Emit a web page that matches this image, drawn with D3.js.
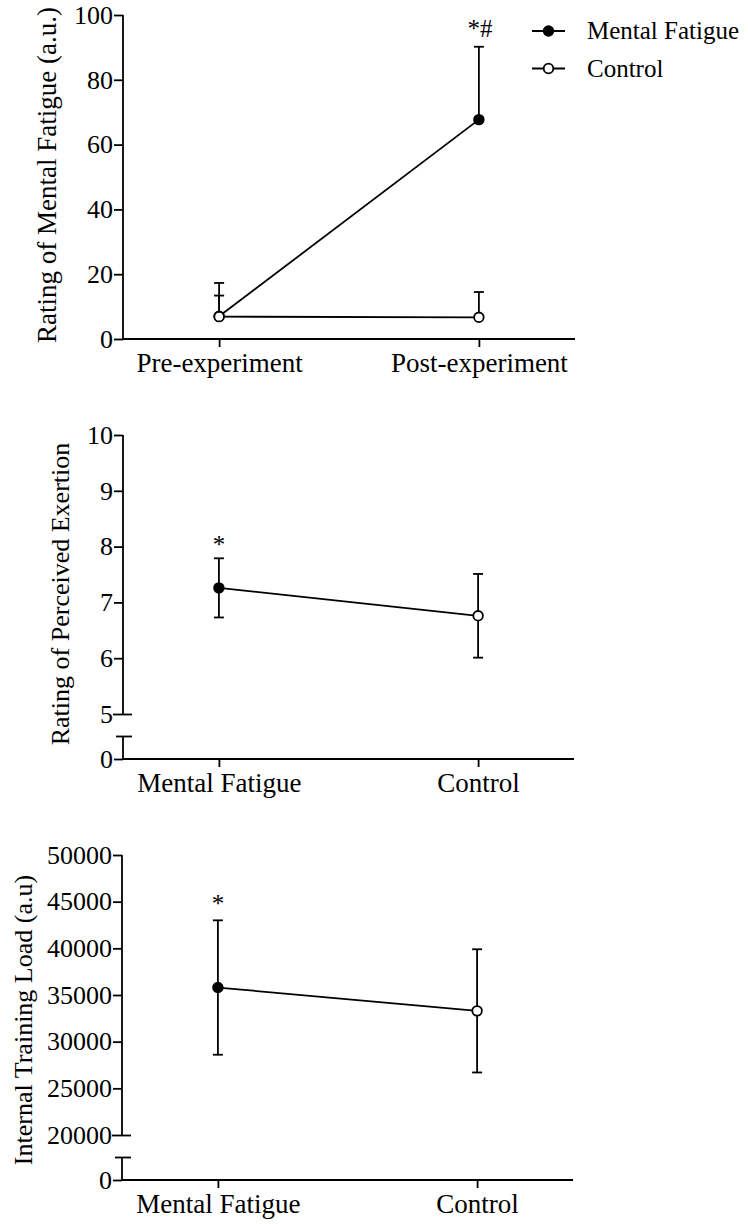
<!DOCTYPE html>
<html lang="en">
<head>
<meta charset="utf-8">
<title>Mental fatigue, RPE and training load</title>
<script src="https://d3js.org/d3.v7.min.js"></script>
<style>
  body { margin: 0; background: #fff; }
  svg { display: block; }
</style>
</head>
<body>
<script>
// ---- data ----
var fatigueTimes = ["Pre-experiment", "Post-experiment"];
var fatigueMentalMean = [7.0, 67.7];
var fatigueMentalSd = [10.3, 22.5];
var fatigueControlMean = [6.9, 6.7];
var fatigueControlSd = [6.5, 7.8];
var fatigueSig = ["", "*#"];
var fatigueTicks = [0, 20, 40, 60, 80, 100];

var groupNames = ["Mental Fatigue", "Control"];
var rpeMean = [7.26, 6.76];
var rpeSd = [0.53, 0.75];
var rpeSig = ["*", ""];
var rpeTicks = [0, 5, 6, 7, 8, 9, 10];

var loadMean = [35800, 33300];
var loadSd = [7200, 6600];
var loadSig = ["*", ""];
var loadTicks = [0, 20000, 25000, 30000, 35000, 40000, 45000, 50000];

var legendNames = ["Mental Fatigue", "Control"];

// ---- drawing ----
var W = 748, H = 1224;
var FONT = "'Liberation Serif', 'Times New Roman', serif";
var SW = 1.8;

var svg = d3.select("body").append("svg")
    .attr("width", W)
    .attr("height", H)
    .style("font-family", FONT);

svg.append("rect").attr("width", W).attr("height", H).attr("fill", "#fff");

function yAxis(g, y, ticks, brk) {
    g.call(d3.axisLeft(y).tickValues(ticks).tickSize(9).tickPadding(1).tickFormat(d3.format("d")));
    g.select(".domain").remove();
    g.attr("font-family", FONT).attr("font-size", 26);
    g.selectAll(".tick line").attr("stroke", "#000").attr("stroke-width", SW);
    g.selectAll(".tick text").attr("fill", "#000");
    if (brk == null) {
        g.append("line").attr("y1", y(0)).attr("y2", y(ticks[ticks.length - 1]))
            .attr("stroke", "#000").attr("stroke-width", SW);
        return;
    }
    // broken axis: upper segment, lower stub and the two break marks
    var mid = (y(0) + y(brk)) / 2;
    g.append("line").attr("y1", y(brk)).attr("y2", y(ticks[ticks.length - 1]))
        .attr("stroke", "#000").attr("stroke-width", SW);
    g.append("line").attr("y1", mid).attr("y2", y(0))
        .attr("stroke", "#000").attr("stroke-width", SW);
    g.selectAll(".tick").filter(function (d) { return d === brk; })
        .select("line").attr("x1", 9).attr("x2", -10);
    g.append("line").attr("x1", -7).attr("x2", 9).attr("y1", mid).attr("y2", mid)
        .attr("stroke", "#000").attr("stroke-width", SW);
}

function xAxis(g, x, y0, x0, x1) {
    g.attr("transform", "translate(0," + y0 + ")")
        .call(d3.axisBottom(x).tickSize(8).tickPadding(6));
    g.select(".domain").remove();
    g.attr("font-family", FONT).attr("font-size", 27);
    g.selectAll(".tick line").attr("stroke", "#000").attr("stroke-width", SW);
    g.selectAll(".tick text").attr("fill", "#000");
    g.append("line").attr("x1", x0).attr("x2", x1)
        .attr("stroke", "#000").attr("stroke-width", SW);
}

function yTitle(text, cx, cy, size) {
    svg.append("text")
        .attr("transform", "translate(" + cx + "," + cy + ") rotate(-90)")
        .attr("text-anchor", "middle")
        .attr("dy", "0.35em")
        .attr("font-size", size)
        .text(text);
}

function errBar(g, x, yLo, yHi, lowerCap) {
    g.append("line").attr("x1", x).attr("x2", x).attr("y1", yLo).attr("y2", yHi)
        .attr("stroke", "#000").attr("stroke-width", SW);
    g.append("line").attr("x1", x - 5).attr("x2", x + 5).attr("y1", yHi).attr("y2", yHi)
        .attr("stroke", "#000").attr("stroke-width", SW);
    if (lowerCap) {
        g.append("line").attr("x1", x - 5).attr("x2", x + 5).attr("y1", yLo).attr("y2", yLo)
            .attr("stroke", "#000").attr("stroke-width", SW);
    }
}

function dot(g, x, y, filled) {
    g.append("circle").attr("cx", x).attr("cy", y).attr("r", 4.8)
        .attr("fill", filled ? "#000" : "#fff")
        .attr("stroke", "#000").attr("stroke-width", SW);
}

// ---------- panel 1: rating of mental fatigue ----------
(function () {
    var x = d3.scalePoint().domain(fatigueTimes).range([123, 575]).padding(0.37);
    var y = d3.scaleLinear().domain([0, 100]).range([339, 15]);
    var g = svg.append("g");

    yAxis(g.append("g").attr("transform", "translate(123,0)"), y, fatigueTicks, null);
    xAxis(g.append("g"), x, y(0), 123, 575);
    yTitle("Rating of Mental Fatigue (a.u.)", 47, 175, 27);

    // one-sided error bars (upwards only)
    fatigueTimes.forEach(function (t, i) {
        errBar(g, x(t), y(fatigueMentalMean[i]), y(fatigueMentalMean[i] + fatigueMentalSd[i]), false);
        errBar(g, x(t), y(fatigueControlMean[i]), y(fatigueControlMean[i] + fatigueControlSd[i]), false);
    });

    var line = d3.line()
        .x(function (d, i) { return x(fatigueTimes[i]); })
        .y(function (d) { return y(d); });

    g.append("path").datum(fatigueMentalMean).attr("d", line)
        .attr("fill", "none").attr("stroke", "#000").attr("stroke-width", SW);
    g.append("path").datum(fatigueControlMean).attr("d", line)
        .attr("fill", "none").attr("stroke", "#000").attr("stroke-width", SW);

    fatigueTimes.forEach(function (t, i) { dot(g, x(t), y(fatigueMentalMean[i]), true); });
    fatigueTimes.forEach(function (t, i) { dot(g, x(t), y(fatigueControlMean[i]), false); });

    fatigueTimes.forEach(function (t, i) {
        g.append("text").attr("x", x(t) + 1)
            .attr("y", y(fatigueMentalMean[i] + fatigueMentalSd[i]) - 10)
            .attr("text-anchor", "middle").attr("font-size", 25)
            .text(fatigueSig[i]);
    });

    // legend
    var lg = svg.append("g");
    legendNames.forEach(function (name, i) {
        var ly = 31 + i * 37.5;
        lg.append("line").attr("x1", 532).attr("x2", 565).attr("y1", ly).attr("y2", ly)
            .attr("stroke", "#000").attr("stroke-width", SW);
        dot(lg, 548.5, ly, i === 0);
        lg.append("text").attr("x", 587).attr("y", ly).attr("dy", "0.33em")
            .attr("font-size", 25).text(name);
    });
})();

// ---------- panels 2 and 3: group means with SD ----------
function groupPanel(cfg) {
    var x = d3.scalePoint().domain(groupNames).range([cfg.left, cfg.right]).padding(0.37);
    var y = d3.scaleLinear().domain(cfg.domain).range(cfg.range);
    var g = svg.append("g");

    yAxis(g.append("g").attr("transform", "translate(" + cfg.left + ",0)"), y, cfg.ticks, cfg.domain[1]);
    xAxis(g.append("g"), x, y(0), cfg.left, cfg.right);
    yTitle(cfg.title, cfg.titleX, cfg.titleY, 26);

    groupNames.forEach(function (n, i) {
        errBar(g, x(n), y(cfg.mean[i] - cfg.sd[i]), y(cfg.mean[i] + cfg.sd[i]), true);
    });

    var line = d3.line()
        .x(function (d, i) { return x(groupNames[i]); })
        .y(function (d) { return y(d); });
    g.append("path").datum(cfg.mean).attr("d", line)
        .attr("fill", "none").attr("stroke", "#000").attr("stroke-width", SW);

    groupNames.forEach(function (n, i) { dot(g, x(n), y(cfg.mean[i]), i === 0); });

    groupNames.forEach(function (n, i) {
        g.append("text").attr("x", x(n))
            .attr("y", y(cfg.mean[i] + cfg.sd[i]) - cfg.sigGap)
            .attr("text-anchor", "middle").attr("font-size", 25)
            .text(cfg.sig[i]);
    });
}

groupPanel({
    left: 123, right: 574,
    domain: [0, 5, 10], range: [759, 714, 435],
    ticks: rpeTicks, mean: rpeMean, sd: rpeSd, sig: rpeSig, sigGap: 5,
    title: "Rating of Perceived Exertion", titleX: 60, titleY: 594
});

groupPanel({
    left: 122, right: 573,
    domain: [0, 20000, 50000], range: [1180, 1135, 855],
    ticks: loadTicks, mean: loadMean, sd: loadSd, sig: loadSig, sigGap: 8,
    title: "Internal Training Load (a.u)", titleX: 23, titleY: 1020
});
</script>
</body>
</html>
